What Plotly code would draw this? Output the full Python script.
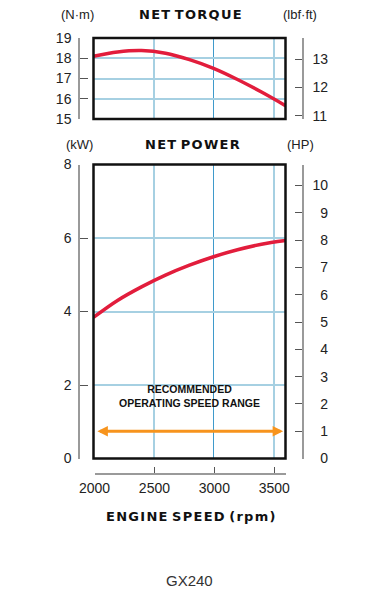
import plotly.graph_objects as go

# ---------------- data ----------------
rpm = [2000, 2200, 2400, 2600, 2800, 3000, 3200, 3400, 3600]
torque_nm = [18.10, 18.31, 18.38, 18.25, 17.93, 17.50, 16.95, 16.33, 15.66]
power_kw = [3.84, 4.30, 4.67, 4.99, 5.26, 5.49, 5.68, 5.83, 5.93]

speed_range = [2020, 3580]          # recommended operating speed range (arrow ends)
range_level_kw = 0.74

rpm_ticks = [2000, 2500, 3000, 3500, 3600]
rpm_ticktext = ["2000", "2500", "3000", "3500", ""]
nm_ticks = [15, 16, 17, 18, 19]
lbf_ticks = [11, 12, 13]
kw_ticks = [0, 2, 4, 6, 8]
hp_ticks = [0, 1, 2, 3, 4, 5, 6, 7, 8, 9, 10]

model = "GX240"

# ---------------- layout helpers ----------------
OFF = 8                      # default page margin of the html body
PW, PH = 388, 590
W, H = PW - OFF, PH - OFF
def px(x):
    return (x - OFF) / W
def py(y):
    return 1 - (y - OFF) / H

FONT = "Liberation Sans, Arial, sans-serif"
TITLE_FONT = "DejaVu Sans, Liberation Sans, sans-serif"
RED = "#e21d3c"
ORANGE = "#f7941d"
GRID_LIGHT = "#a6d0e2"
GRID_DARK = "#3f9acb"
AX_GRAY = "#9a9a9a"
TICK_COL = "#555555"
TXT = "#222222"

x_main = [px(93.5), px(285.5)]
x_left = [px(80), px(93.5)]
x_right = [px(285.5), px(302)]
x_rpm = [px(94.5), px(286.3)]
top_dom = [py(119), py(38)]
bot_dom = [py(458.5), py(164.5)]
rpm_dom = [py(472.5), py(468)]

xr = [2000, 3600]

fig = go.Figure()
# data curves
fig.add_trace(go.Scatter(x=rpm, y=torque_nm, mode="lines", line=dict(color=RED, width=3.5, shape="spline", smoothing=0.9),
                         xaxis="x", yaxis="y", showlegend=False, hoverinfo="skip"))
fig.add_trace(go.Scatter(x=rpm, y=power_kw, mode="lines", line=dict(color=RED, width=3.5, shape="spline", smoothing=0.9),
                         xaxis="x2", yaxis="y2", showlegend=False, hoverinfo="skip"))
# empty traces so that the scale-only subplots exist
for xa, ya in [("x3", "y3"), ("x4", "y4"), ("x5", "y5"), ("x6", "y6"), ("x7", "y7")]:
    fig.add_trace(go.Scatter(x=[], y=[], xaxis=xa, yaxis=ya, showlegend=False, hoverinfo="skip"))

hidden = dict(showticklabels=False, ticks="", showline=False, showgrid=False, zeroline=False, automargin=False)
main_x = dict(range=xr, domain=x_main, tickvals=[2500, 3500], showgrid=True, gridcolor=GRID_LIGHT, gridwidth=1.5,
              minor=dict(tickvals=[3000], showgrid=True, gridcolor=GRID_DARK, gridwidth=1.2, ticks=""),
              showticklabels=False, ticks="", showline=False, zeroline=False, automargin=False)
scale_common = dict(ticks="inside", tickwidth=1.3, tickcolor=TICK_COL, showline=True, linecolor=AX_GRAY,
                    linewidth=1.5, showgrid=False, zeroline=False, automargin=False,
                    tickfont=dict(family=FONT, size=14, color=TXT))

fig.update_layout(
    template="none",
    width=W, height=H,
    margin=dict(l=0, r=0, t=0, b=0, pad=0),
    paper_bgcolor="white", plot_bgcolor="rgba(0,0,0,0)",
    font=dict(family=FONT, size=14, color=TXT),
    showlegend=False,
    xaxis=dict(**main_x, anchor="y"),
    yaxis=dict(range=[15, 19], domain=top_dom, anchor="x", tickvals=[16, 17, 18], showgrid=True,
               gridcolor=GRID_LIGHT, gridwidth=2, showticklabels=False, ticks="", showline=False,
               zeroline=False, automargin=False),
    xaxis2=dict(**main_x, anchor="y2"),
    yaxis2=dict(range=[0, 8], domain=bot_dom, anchor="x2", tickvals=[2, 4, 6], showgrid=True,
                gridcolor=GRID_LIGHT, gridwidth=2, showticklabels=False, ticks="", showline=False,
                zeroline=False, automargin=False),
    # torque scales
    xaxis3=dict(domain=x_left, anchor="y3", range=[0, 1], **hidden),
    yaxis3=dict(domain=top_dom, anchor="x3", side="left", range=[15, 19], tickvals=nm_ticks, ticklen=8,
                ticklabelstandoff=4, **scale_common),
    xaxis4=dict(domain=x_right, anchor="y4", range=[0, 1], **hidden),
    yaxis4=dict(domain=top_dom, anchor="x4", side="right", range=[10.88, 13.75], tickvals=lbf_ticks, ticklen=7,
                ticklabelstandoff=6, **scale_common),
    # power scales
    xaxis5=dict(domain=x_left, anchor="y5", range=[0, 1], **hidden),
    yaxis5=dict(domain=bot_dom, anchor="x5", side="left", range=[0, 8], tickvals=kw_ticks, ticklen=8,
                ticklabelstandoff=4, **scale_common),
    xaxis6=dict(domain=x_right, anchor="y6", range=[0, 1], **hidden),
    yaxis6=dict(domain=bot_dom, anchor="x6", side="right", range=[0, 10.77], tickvals=hp_ticks,
                ticktext=[("\u2007" + str(v)) if v < 10 else str(v) for v in hp_ticks], ticklen=7,
                ticklabelstandoff=6, **scale_common),
    # engine speed scale
    xaxis7=dict(domain=x_rpm, anchor="y7", side="bottom", range=xr, tickvals=rpm_ticks, ticktext=rpm_ticktext,
                ticklen=6, ticklabelstandoff=2, **scale_common),
    yaxis7=dict(domain=rpm_dom, anchor="x7", range=[0, 1], **hidden),
)

# plot frames
for xref, yref in [("x domain", "y domain"), ("x2 domain", "y2 domain")]:
    fig.add_shape(type="rect", xref=xref, yref=yref, x0=0, x1=1, y0=0, y1=1,
                  line=dict(color="#111", width=2.5), layer="above")

# recommended operating speed range arrow
fig.add_annotation(x=speed_range[1], y=range_level_kw, ax=speed_range[0], ay=range_level_kw,
                   xref="x2", yref="y2", axref="x2", ayref="y2", text="", showarrow=True,
                   arrowhead=2, arrowside="end+start", arrowsize=0.7, arrowwidth=3, arrowcolor=ORANGE)
fig.add_annotation(x=(speed_range[0] + speed_range[1]) / 2, y=py(411), xref="x2", yref="paper", showarrow=False,
                   text="<b>RECOMMENDED<br>OPERATING SPEED RANGE</b>",
                   font=dict(family=FONT, size=10.5, color="#111"), align="center")

def spaced(s):
    return "\u200a".join(list(s))

def ann(text, x, y, size=13, bold=False, family=FONT, color=TXT):
    fig.add_annotation(x=px(x), y=py(y), xref="paper", yref="paper", showarrow=False,
                       text=(f"<b>{text}</b>" if bold else text),
                       font=dict(family=family, size=size, color=color), xanchor="center", yanchor="middle")

ann("(N·m)", 77.5, 15)
ann(spaced("NET") + " " + spaced("TORQUE"), 190, 15, size=13, bold=True, family=TITLE_FONT, color="#111")
ann("(lbf·ft)", 299.5, 15)
ann("(kW)", 79, 144)
ann(spaced("NET") + " " + spaced("POWER"), 192, 144, size=13, bold=True, family=TITLE_FONT, color="#111")
ann("(HP)", 300.5, 144)
ann(spaced("ENGINE") + " " + spaced("SPEED") + " " + spaced("(rpm)"), 191, 516, size=13, bold=True,
    family=TITLE_FONT, color="#111")
ann(model, 189, 580, size=15, color="#333")

fig.write_html("out.html")
